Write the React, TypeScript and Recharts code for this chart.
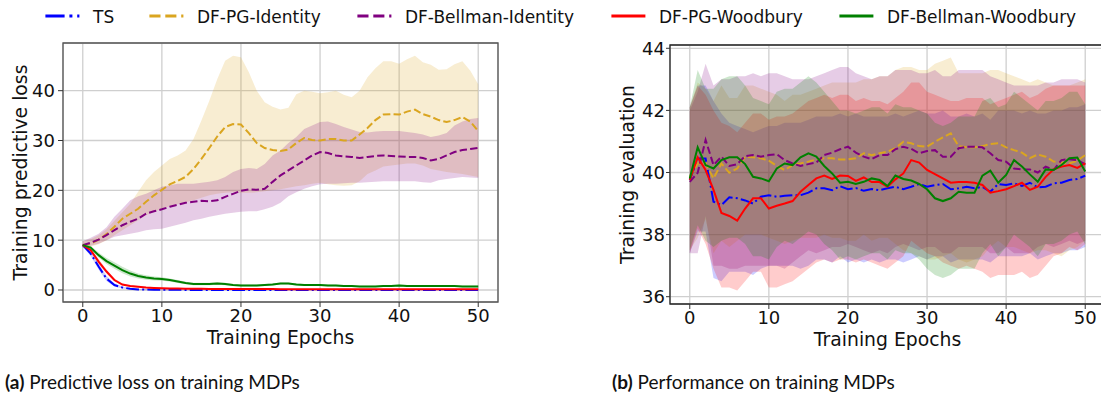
import React from 'react';
import { ComposedChart, Line, Area, XAxis, YAxis, CartesianGrid, ReferenceArea } from 'recharts';

// ---------- shared ----------
const EPOCHS = [
  0, 1, 2, 3, 4, 5, 6, 7, 8, 9,
  10, 11, 12, 13, 14, 15, 16, 17, 18, 19,
  20, 21, 22, 23, 24, 25, 26, 27, 28, 29,
  30, 31, 32, 33, 34, 35, 36, 37, 38, 39,
  40, 41, 42, 43, 44, 45, 46, 47, 48, 49,
  50,
];
const X_TICKS = [0, 10, 20, 30, 40, 50];
const LOSS_TICKS = [0, 10, 20, 30, 40];
const EVAL_TICKS = [36, 38, 40, 42, 44];

const SERIES = [
  { key: 'ts', name: 'TS', color: '#0000ff', dash: '12.8 3.2 2 3.2', legendDash: '19.2 4.8 3 4.8' },
  { key: 'pgId', name: 'DF-PG-Identity', color: '#daa520', dash: '7.4 3.2', legendDash: '11.1 4.8' },
  { key: 'bmId', name: 'DF-Bellman-Identity', color: '#800080', dash: '7.4 3.2', legendDash: '11.1 4.8' },
  { key: 'pgWb', name: 'DF-PG-Woodbury', color: '#ff0000', dash: undefined, legendDash: undefined },
  { key: 'bmWb', name: 'DF-Bellman-Woodbury', color: '#008000', dash: undefined, legendDash: undefined },
];

// ---------- (a) training predictive loss ----------
const lossTsMean = [
  9.0, 7.3, 4.7, 2.3, 1.0, 0.5, 0.25, 0.12, 0.08, 0.05,
  0.04, 0.03, 0.03, 0.02, 0.02, 0.02, 0.02, 0.02, 0.02, 0.02,
  0.02, 0.02, 0.02, 0.02, 0.02, 0.02, 0.02, 0.02, 0.02, 0.02,
  0.02, 0.02, 0.02, 0.02, 0.02, 0.02, 0.02, 0.02, 0.02, 0.02,
  0.02, 0.02, 0.02, 0.02, 0.02, 0.02, 0.02, 0.02, 0.02, 0.02,
  0.02,
];
const lossTsLow = [
  8.7, 6.8, 4.1, 1.8, 0.7, 0.3, 0.1, 0.0, -0.05, -0.07,
  -0.08, -0.08, -0.08, -0.08, -0.08, -0.08, -0.08, -0.08, -0.08, -0.08,
  -0.08, -0.08, -0.08, -0.08, -0.08, -0.08, -0.08, -0.08, -0.08, -0.08,
  -0.08, -0.08, -0.08, -0.08, -0.08, -0.08, -0.08, -0.08, -0.08, -0.08,
  -0.08, -0.08, -0.08, -0.08, -0.08, -0.08, -0.08, -0.08, -0.08, -0.08,
  -0.08,
];
const lossTsHigh = [
  9.3, 7.8, 5.3, 2.8, 1.3, 0.7, 0.4, 0.24, 0.2, 0.16,
  0.14, 0.13, 0.12, 0.12, 0.12, 0.12, 0.12, 0.12, 0.12, 0.12,
  0.12, 0.12, 0.12, 0.12, 0.12, 0.12, 0.12, 0.12, 0.12, 0.12,
  0.12, 0.12, 0.12, 0.12, 0.12, 0.12, 0.12, 0.12, 0.12, 0.12,
  0.12, 0.12, 0.12, 0.12, 0.12, 0.12, 0.12, 0.12, 0.12, 0.12,
  0.12,
];

const lossPgIdMean = [
  9.0, 9.3, 10.1, 11.2, 12.7, 14.3, 15.3, 16.3, 17.7, 19.0,
  20.1, 21.2, 21.9, 22.7, 24.3, 26.3, 28.5, 30.8, 32.7, 33.3,
  33.2, 31.5, 29.5, 28.5, 28.1, 27.9, 28.2, 29.5, 30.5, 30.1,
  30.0, 30.3, 30.3, 30.0, 30.0, 31.2, 32.5, 34.1, 35.2, 35.3,
  35.2, 35.8, 36.2, 35.3, 34.8, 34.1, 33.7, 34.1, 34.7, 33.8,
  31.9,
];
const lossPgIdLow = [
  8.6, 8.7, 9.2, 10.0, 11.0, 12.0, 13.0, 14.0, 15.0, 15.7,
  16.3, 16.8, 17.2, 17.6, 18.0, 18.5, 19.0, 19.3, 19.5, 19.6,
  19.5, 19.5, 19.6, 19.8, 20.0, 20.2, 20.5, 20.8, 21.0, 21.3,
  21.5, 21.2, 21.0, 20.9, 21.0, 21.8, 23.3, 24.0, 24.8, 25.0,
  25.2, 25.4, 25.4, 25.0, 24.3, 24.0, 23.7, 23.5, 23.3, 23.0,
  22.7,
];
const lossPgIdHigh = [
  9.8, 10.2, 11.0, 12.2, 13.9, 15.6, 17.3, 19.7, 22.0, 23.7,
  25.0, 26.3, 27.0, 28.0, 30.3, 34.0, 38.0, 42.3, 46.0, 47.0,
  46.7, 43.7, 40.0, 37.7, 36.8, 36.2, 36.6, 39.3, 40.0, 39.8,
  39.5, 39.7, 40.0, 39.2, 38.7, 40.0, 42.7, 44.5, 45.9, 45.9,
  45.4, 46.3, 47.0, 45.7, 45.2, 44.2, 44.3, 45.3, 45.9, 44.0,
  41.3,
];

const lossBmIdMean = [
  9.0, 9.5, 10.1, 11.0, 12.0, 13.0, 13.7, 14.3, 15.3, 15.8,
  16.2, 16.7, 17.1, 17.5, 17.7, 17.9, 17.8, 18.0, 18.7, 19.3,
  19.9, 20.2, 20.1, 20.3, 21.7, 23.0, 24.0, 25.0, 26.0, 27.0,
  27.7, 27.5, 27.0, 26.8, 26.7, 26.5, 26.7, 26.9, 27.0, 26.9,
  26.8, 26.7, 26.7, 26.5, 26.0, 26.3, 27.0, 27.7, 28.1, 28.3,
  28.5,
];
const lossBmIdLow = [
  8.5, 8.9, 9.3, 10.0, 10.7, 11.0, 11.3, 11.6, 12.0, 12.2,
  12.3, 12.7, 13.1, 13.5, 14.0, 14.3, 14.7, 15.0, 15.3, 15.5,
  15.7, 15.8, 15.8, 16.2, 16.7, 17.5, 18.8, 19.6, 20.3, 20.8,
  21.2, 21.3, 21.3, 21.4, 21.5, 21.5, 21.6, 21.7, 21.8, 21.8,
  21.8, 21.8, 21.8, 21.6, 21.5, 22.0, 22.3, 22.5, 22.7, 22.6,
  22.5,
];
const lossBmIdHigh = [
  9.8, 10.5, 11.3, 12.6, 14.7, 16.3, 18.0, 18.8, 19.3, 20.0,
  20.7, 21.0, 21.3, 21.3, 21.3, 21.5, 21.7, 22.0, 22.7, 23.7,
  24.3, 24.5, 24.3, 25.3, 27.0, 28.0, 29.5, 30.7, 32.3, 33.0,
  33.7, 33.8, 33.3, 32.7, 32.2, 31.7, 31.6, 31.8, 31.9, 31.9,
  31.9, 31.7, 31.5, 31.2, 30.7, 31.0, 31.5, 33.0, 33.8, 34.3,
  34.5,
];

const lossPgWbMean = [
  9.0, 8.0, 5.7, 3.7, 2.0, 1.1, 0.8, 0.65, 0.5, 0.42,
  0.36, 0.32, 0.3, 0.27, 0.25, 0.24, 0.22, 0.21, 0.2, 0.2,
  0.19, 0.19, 0.18, 0.18, 0.18, 0.17, 0.17, 0.17, 0.17, 0.16,
  0.16, 0.16, 0.16, 0.16, 0.15, 0.15, 0.15, 0.15, 0.15, 0.15,
  0.15, 0.15, 0.15, 0.15, 0.15, 0.15, 0.15, 0.15, 0.15, 0.15,
  0.15,
];
const lossPgWbLow = [
  8.8, 7.6, 5.2, 3.3, 1.7, 0.9, 0.65, 0.52, 0.4, 0.33,
  0.28, 0.25, 0.23, 0.21, 0.19, 0.18, 0.17, 0.16, 0.15, 0.15,
  0.14, 0.14, 0.13, 0.13, 0.13, 0.12, 0.12, 0.12, 0.12, 0.11,
  0.11, 0.11, 0.11, 0.11, 0.1, 0.1, 0.1, 0.1, 0.1, 0.1,
  0.1, 0.1, 0.1, 0.1, 0.1, 0.1, 0.1, 0.1, 0.1, 0.1,
  0.1,
];
const lossPgWbHigh = [
  9.2, 8.4, 6.2, 4.1, 2.3, 1.3, 0.95, 0.78, 0.6, 0.51,
  0.44, 0.39, 0.37, 0.33, 0.31, 0.3, 0.27, 0.26, 0.25, 0.25,
  0.24, 0.24, 0.23, 0.23, 0.23, 0.22, 0.22, 0.22, 0.22, 0.21,
  0.21, 0.21, 0.21, 0.21, 0.2, 0.2, 0.2, 0.2, 0.2, 0.2,
  0.2, 0.2, 0.2, 0.2, 0.2, 0.2, 0.2, 0.2, 0.2, 0.2,
  0.2,
];

const lossBmWbMean = [
  9.0, 8.5, 7.0, 5.8, 4.9, 4.0, 3.3, 2.8, 2.5, 2.3,
  2.2, 2.0, 1.7, 1.4, 1.2, 1.2, 1.2, 1.3, 1.2, 1.0,
  0.9, 0.9, 0.9, 1.0, 1.1, 1.3, 1.3, 1.1, 1.0, 1.0,
  1.0, 0.9, 0.9, 0.8, 0.8, 0.7, 0.7, 0.7, 0.8, 0.8,
  0.9, 0.8, 0.8, 0.8, 0.8, 0.8, 0.8, 0.8, 0.7, 0.7,
  0.7,
];
const lossBmWbLow = [
  8.8, 8.15, 6.5, 5.2, 4.25, 3.35, 2.7, 2.3, 2.05, 1.9,
  1.85, 1.7, 1.4, 1.15, 0.95, 0.95, 0.95, 1.05, 0.95, 0.8,
  0.7, 0.7, 0.7, 0.8, 0.9, 1.1, 1.1, 0.9, 0.8, 0.8,
  0.8, 0.7, 0.7, 0.6, 0.6, 0.5, 0.5, 0.5, 0.6, 0.6,
  0.7, 0.6, 0.6, 0.6, 0.6, 0.6, 0.6, 0.6, 0.5, 0.5,
  0.5,
];
const lossBmWbHigh = [
  9.2, 8.85, 7.5, 6.4, 5.55, 4.65, 3.9, 3.3, 2.95, 2.7,
  2.55, 2.3, 2.0, 1.65, 1.45, 1.45, 1.45, 1.55, 1.45, 1.2,
  1.1, 1.1, 1.1, 1.2, 1.3, 1.5, 1.5, 1.3, 1.2, 1.2,
  1.2, 1.1, 1.1, 1.0, 1.0, 0.9, 0.9, 0.9, 1.0, 1.0,
  1.1, 1.0, 1.0, 1.0, 1.0, 1.0, 1.0, 1.0, 0.9, 0.9,
  0.9,
];

// ---------- (b) training evaluation ----------
const evalTsMean = [
  39.76, 40.45, 40.45, 39.06, 38.95, 39.2, 39.17, 39.1, 39.0, 39.22,
  39.27, 39.22, 39.25, 39.27, 39.27, 39.35, 39.49, 39.49, 39.43, 39.56,
  39.46, 39.5, 39.41, 39.47, 39.43, 39.49, 39.54, 39.46, 39.54, 39.63,
  39.54, 39.59, 39.63, 39.46, 39.49, 39.54, 39.49, 39.54, 39.38, 39.63,
  39.6, 39.65, 39.57, 39.67, 39.52, 39.54, 39.65, 39.67, 39.76, 39.79,
  39.9,
];
const evalTsLow = [
  37.4, 38.1, 38.1, 36.6, 36.5, 36.8, 36.8, 36.8, 36.7, 36.9,
  37.0, 37.0, 37.0, 37.0, 36.9, 37.0, 37.2, 37.2, 37.1, 37.3,
  37.1, 37.2, 37.1, 37.2, 37.1, 37.2, 37.2, 37.1, 37.2, 37.3,
  37.2, 37.3, 37.3, 37.1, 37.2, 37.2, 37.2, 37.2, 37.1, 37.3,
  37.3, 37.3, 37.3, 37.4, 37.2, 37.3, 37.4, 37.4, 37.5, 37.5,
  37.6,
];
const evalTsHigh = [
  42.1, 42.8, 42.8, 42.3, 41.9, 41.6, 41.5, 41.4, 41.3, 41.4,
  41.5, 41.5, 41.6, 41.6, 41.6, 41.7, 41.8, 41.8, 41.8, 41.9,
  41.8, 41.9, 41.8, 41.8, 41.8, 41.8, 41.9, 41.8, 41.9, 42.0,
  41.9, 41.9, 42.0, 41.8, 41.8, 41.9, 41.8, 41.9, 41.7, 42.0,
  42.0, 42.0, 41.9, 42.0, 41.9, 41.9, 42.0, 42.0, 42.1, 42.1,
  42.2,
];

const evalPgIdMean = [
  39.86, 40.29, 40.29, 39.81, 40.29, 39.99, 40.13, 40.51, 40.49, 40.46,
  40.38, 40.21, 40.08, 40.24, 40.29, 40.35, 40.42, 40.46, 40.46, 40.42,
  40.42, 40.46, 40.62, 40.56, 40.62, 40.67, 40.78, 40.99, 40.94, 40.85,
  40.83, 40.99, 41.13, 41.26, 40.85, 40.81, 40.81, 40.85, 40.92, 40.94,
  40.81, 40.72, 40.64, 40.46, 40.58, 40.51, 40.35, 40.32, 40.29, 40.38,
  40.56,
];
const evalPgIdLow = [
  37.5, 37.9, 38.5, 37.4, 37.8, 37.6, 37.8, 38.0, 38.0, 38.0,
  37.9, 37.8, 37.7, 37.8, 37.9, 37.9, 37.9, 38.0, 37.9, 37.9,
  37.8, 37.8, 38.0, 37.8, 37.9, 37.9, 37.7, 37.5, 37.4, 37.3,
  37.2, 37.2, 37.3, 37.4, 37.2, 37.1, 37.2, 37.3, 37.6, 37.8,
  37.6, 37.6, 37.5, 37.4, 37.5, 37.5, 37.4, 37.3, 37.5, 37.6,
  37.8,
];
const evalPgIdHigh = [
  42.1, 42.9, 42.7, 42.3, 42.8, 42.4, 42.4, 42.8, 42.8, 42.7,
  42.6, 42.5, 42.3, 42.5, 42.5, 42.6, 42.7, 42.8, 42.9, 42.9,
  42.9, 42.9, 43.0, 43.0, 43.1, 43.1, 43.3, 43.4, 43.4, 43.3,
  43.3, 43.5, 43.6, 43.7, 43.2, 43.2, 43.2, 43.2, 43.3, 43.3,
  43.2, 43.1, 43.0, 42.9, 43.0, 42.9, 42.8, 42.8, 42.8, 42.9,
  43.0,
];

const evalBmIdMean = [
  39.7, 39.99, 41.05, 40.24, 40.51, 40.21, 40.27, 40.53, 40.56, 40.51,
  40.56, 40.59, 40.4, 40.29, 40.21, 40.27, 40.32, 40.56, 40.64, 40.75,
  40.83, 40.64, 40.51, 40.43, 40.56, 40.56, 40.75, 40.83, 40.76, 40.62,
  40.69, 40.72, 40.51, 40.51, 40.78, 40.83, 40.83, 40.81, 40.62, 40.4,
  40.35, 40.13, 40.1, 40.1, 40.0, 40.19, 40.08, 40.4, 40.43, 40.4,
  40.26,
];
const evalBmIdLow = [
  37.4, 37.4, 38.6, 37.0, 37.0, 36.9, 36.9, 37.0, 37.0, 37.0,
  37.0, 37.0, 36.9, 37.1, 37.3, 37.5, 37.4, 37.5, 37.6, 37.6,
  37.7, 37.6, 37.5, 37.4, 37.5, 37.4, 37.6, 37.7, 37.6, 37.5,
  37.6, 37.6, 37.4, 37.4, 37.6, 37.6, 37.6, 37.6, 37.4, 37.4,
  37.6, 37.4, 37.4, 37.4, 37.6, 37.7, 37.6, 37.7, 37.8, 37.7,
  37.8,
];
const evalBmIdHigh = [
  42.0, 42.6, 43.5, 42.8, 43.0, 43.0, 43.1, 43.1, 43.2, 43.1,
  43.2, 43.2, 43.1, 43.0, 43.0, 43.0, 43.1, 43.2, 43.3, 43.4,
  43.4, 43.2, 43.1, 43.0, 43.1, 43.1, 43.3, 43.3, 43.3, 43.2,
  43.2, 43.3, 43.1, 43.1, 43.3, 43.3, 43.3, 43.3, 43.1, 43.0,
  42.9, 42.8, 42.8, 42.8, 42.8, 42.9, 42.9, 43.0, 43.0, 43.0,
  42.9,
];

const evalPgWbMean = [
  39.76, 40.49, 40.08, 39.44, 38.7, 38.6, 38.45, 38.84, 39.17, 39.17,
  38.84, 38.93, 39.0, 39.08, 39.38, 39.6, 39.81, 39.9, 39.79, 39.9,
  39.89, 39.73, 39.84, 39.69, 39.69, 39.54, 39.78, 39.97, 40.4, 40.32,
  40.08, 39.95, 39.81, 39.67, 39.69, 39.69, 39.67, 39.6, 39.35, 39.4,
  39.46, 39.56, 39.67, 39.44, 39.54, 39.86, 40.1, 40.19, 40.24, 40.15,
  40.29,
];
const evalPgWbLow = [
  37.4, 38.2, 37.7, 36.9, 36.3, 36.3, 36.2, 36.5, 36.8, 36.8,
  36.3, 36.3, 36.4, 36.5, 36.7, 36.9, 37.1, 37.2, 37.1, 37.2,
  37.2, 37.1, 37.2, 37.1, 37.0, 36.9, 37.1, 37.3, 37.8, 37.6,
  37.4, 37.3, 37.1, 37.0, 36.9, 37.0, 36.9, 36.8, 36.6, 36.7,
  36.7, 36.7, 36.8, 36.6, 36.7, 37.0, 37.3, 37.4, 37.6, 37.5,
  37.7,
];
const evalPgWbHigh = [
  42.1, 42.8, 42.5, 42.0, 41.6, 41.5, 41.3, 41.6, 41.9, 41.9,
  41.7, 41.8, 41.8, 41.9, 42.1, 42.3, 42.4, 42.5, 42.4, 42.5,
  42.5, 42.3, 42.4, 42.3, 42.3, 42.2, 42.4, 42.6, 42.9, 42.9,
  42.6, 42.5, 42.4, 42.3, 42.3, 42.4, 42.4, 42.4, 42.2, 42.3,
  42.4, 42.5, 42.6, 42.4, 42.5, 42.7, 42.8, 42.8, 42.8, 42.8,
  42.8,
];

const evalBmWbMean = [
  39.81, 40.81, 40.24, 40.13, 40.4, 40.49, 40.49, 40.27, 39.86, 39.81,
  39.72, 40.13, 40.29, 40.24, 40.49, 40.62, 40.51, 40.21, 39.97, 39.67,
  39.7, 39.63, 39.7, 39.81, 39.76, 39.56, 39.9, 39.79, 39.74, 39.63,
  39.46, 39.17, 39.08, 39.17, 39.38, 39.35, 39.35, 39.9, 40.06, 39.67,
  39.92, 40.4, 40.19, 39.94, 39.7, 40.1, 40.08, 40.24, 40.46, 40.48,
  40.03,
];
const evalBmWbLow = [
  37.5, 38.3, 37.8, 37.6, 37.8, 37.9, 37.9, 37.7, 37.3, 37.3,
  37.2, 37.6, 37.8, 37.7, 37.9, 38.1, 38.0, 37.7, 37.5, 37.2,
  37.3, 37.2, 37.3, 37.4, 37.4, 37.2, 37.5, 37.4, 37.4, 37.2,
  36.9, 36.7, 36.6, 36.7, 36.9, 36.9, 36.9, 37.4, 37.7, 37.3,
  37.6, 38.0, 37.8, 37.6, 37.3, 37.7, 37.7, 37.8, 38.0, 38.1,
  37.7,
];
const evalBmWbHigh = [
  42.1, 43.3, 42.7, 42.7, 43.0, 43.1, 43.1, 42.8, 42.4, 42.3,
  42.2, 42.6, 42.7, 42.7, 42.9, 43.1, 42.9, 42.6, 42.3, 42.0,
  42.0, 41.9, 42.0, 42.1, 42.1, 41.9, 42.2, 42.1, 42.1, 42.0,
  41.9, 41.6, 41.5, 41.6, 41.8, 41.8, 41.8, 42.3, 42.4, 42.1,
  42.2, 42.6, 42.4, 42.2, 42.0, 42.3, 42.3, 42.4, 42.6, 42.6,
  42.2,
];

type Stat = { mean: number[]; low: number[]; high: number[] };

const LOSS: Record<string, Stat> = {
  ts: { mean: lossTsMean, low: lossTsLow, high: lossTsHigh },
  pgId: { mean: lossPgIdMean, low: lossPgIdLow, high: lossPgIdHigh },
  bmId: { mean: lossBmIdMean, low: lossBmIdLow, high: lossBmIdHigh },
  pgWb: { mean: lossPgWbMean, low: lossPgWbLow, high: lossPgWbHigh },
  bmWb: { mean: lossBmWbMean, low: lossBmWbLow, high: lossBmWbHigh },
};
const EVAL: Record<string, Stat> = {
  ts: { mean: evalTsMean, low: evalTsLow, high: evalTsHigh },
  pgId: { mean: evalPgIdMean, low: evalPgIdLow, high: evalPgIdHigh },
  bmId: { mean: evalBmIdMean, low: evalBmIdLow, high: evalBmIdHigh },
  pgWb: { mean: evalPgWbMean, low: evalPgWbLow, high: evalPgWbHigh },
  bmWb: { mean: evalBmWbMean, low: evalBmWbLow, high: evalBmWbHigh },
};

function buildRows(stats: Record<string, Stat>) {
  return EPOCHS.map((epoch, i) => {
    const row: Record<string, unknown> = { epoch };
    for (const s of SERIES) {
      const st = stats[s.key];
      row[s.key] = st.mean[i];
      row[s.key + 'Band'] = [st.low[i], st.high[i]];
    }
    return row;
  });
}

const lossRows = buildRows(LOSS);
const evalRows = buildRows(EVAL);

const FONT = '"DejaVu Sans", sans-serif';
const X_DOMAIN: [number, number] = [-2.5, 52.5];
const LABEL_SIZE = 18.8;

type PanelProps = {
  rows: Record<string, unknown>[];
  yDomain: [number, number];
  yTicks: number[];
  yLabel: string;
  width: number;
  margin: { top: number; right: number; bottom: number; left: number };
  yAxisWidth: number;
  yLabelOffset: number;
  yTickSize: number;
  yTickMargin: number;
  frame: string;
};

function Panel(p: PanelProps) {
  const tickStyle = { fontSize: 18, fill: '#111', fontFamily: FONT };
  return (
    <ComposedChart width={p.width} height={360} data={p.rows} margin={p.margin}>
      <CartesianGrid stroke="#cfcfcf" strokeWidth={1.3} />
      <XAxis
        dataKey="epoch"
        type="number"
        domain={X_DOMAIN}
        ticks={X_TICKS}
        allowDataOverflow
        height={45}
        axisLine={false}
        tickLine={{ stroke: '#333' }}
        tickSize={5}
        tickMargin={2}
        tick={tickStyle}
        label={{ value: 'Training Epochs', position: 'insideBottom', offset: 3, fontSize: LABEL_SIZE, fill: '#111', fontFamily: FONT }}
      />
      <YAxis
        type="number"
        domain={p.yDomain}
        ticks={p.yTicks}
        allowDataOverflow
        width={p.yAxisWidth}
        axisLine={false}
        tickLine={{ stroke: '#333' }}
        tickSize={p.yTickSize}
        tickMargin={p.yTickMargin}
        tick={tickStyle}
        label={{
          value: p.yLabel,
          angle: -90,
          position: 'insideLeft',
          offset: p.yLabelOffset,
          fontSize: LABEL_SIZE,
          fill: '#111',
          fontFamily: FONT,
          style: { textAnchor: 'middle' },
        }}
      />
      {SERIES.map((s) => (
        <Area
          key={s.key + 'Band'}
          dataKey={s.key + 'Band'}
          type="linear"
          stroke="none"
          fill={s.color}
          fillOpacity={0.2}
          isAnimationActive={false}
          activeDot={false}
        />
      ))}
      {SERIES.map((s) => (
        <Line
          key={s.key}
          dataKey={s.key}
          type="linear"
          stroke={s.color}
          strokeWidth={2}
          strokeDasharray={s.dash}
          dot={false}
          activeDot={false}
          isAnimationActive={false}
        />
      ))}
      <ReferenceArea
        x1={X_DOMAIN[0]}
        x2={X_DOMAIN[1]}
        y1={p.yDomain[0]}
        y2={p.yDomain[1]}
        fill="none"
        fillOpacity={0}
        stroke={p.frame}
        strokeWidth={1.3}
        ifOverflow="visible"
      />
    </ComposedChart>
  );
}

// legend text x positions (text start); sample line sits just before each text
const LEGEND_X = [93, 197, 405, 659, 887];

function Legend() {
  return (
    <svg width={1101} height={32} style={{ position: 'absolute', left: 0, top: 0 }}>
      {SERIES.map((s, i) => {
        const tx = LEGEND_X[i];
        return (
          <g key={s.key}>
            <line x1={tx - 47.6} x2={tx - 13.6} y1={16} y2={16} stroke={s.color} strokeWidth={3} strokeDasharray={s.legendDash} />
            <text x={tx} y={22.5} fontSize={17} fontFamily={FONT} fill="#111">
              {s.name}
            </text>
          </g>
        );
      })}
    </svg>
  );
}

function Captions() {
  const style = { fontFamily: 'Lato, sans-serif', fontSize: 19, fill: '#111' };
  return (
    <svg width={1101} height={40} style={{ position: 'absolute', left: 0, top: 357 }}>
      <text x={5} y={32} {...style}>
        <tspan fontWeight="bold">(a)</tspan> Predictive loss on training MDPs
      </text>
      <text x={612} y={32} {...style}>
        <tspan fontWeight="bold">(b)</tspan> Performance on training MDPs
      </text>
    </svg>
  );
}

export default function App() {
  return (
    <div
      style={{
        position: 'absolute',
        left: 0,
        top: 0,
        width: 1101,
        height: 397,
        overflow: 'hidden',
        background: '#fff',
      }}
    >
      <Legend />
      <div style={{ position: 'absolute', left: 0, top: 0 }}>
        <Panel
          rows={lossRows}
          yDomain={[-2.41, 49.57]}
          yTicks={LOSS_TICKS}
          yLabel="Training predictive loss"
          width={510}
          margin={{ top: 43, right: 12, bottom: 13, left: 0 }}
          yAxisWidth={63}
          yLabelOffset={20}
          yTickSize={5}
          yTickMargin={3}
          frame="#555"
        />
      </div>
      <div style={{ position: 'absolute', left: 600, top: 0 }}>
        <Panel
          rows={evalRows}
          yDomain={[35.765, 44.106]}
          yTicks={EVAL_TICKS}
          yLabel="Training evaluation"
          width={505}
          margin={{ top: 45, right: 0, bottom: 11, left: 0 }}
          yAxisWidth={70}
          yLabelOffset={27.5}
          yTickSize={4}
          yTickMargin={1}
          frame="#222"
        />
      </div>
      <Captions />
    </div>
  );
}
